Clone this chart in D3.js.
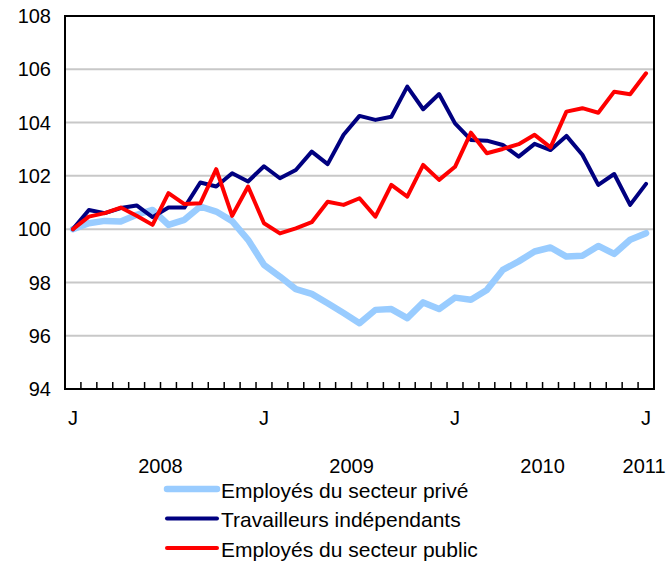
<!DOCTYPE html>
<html>
<head>
<meta charset="utf-8">
<script src="https://cdn.jsdelivr.net/npm/d3@7"></script>
<style>
body { margin: 0; background: #fff; }
svg text { font-family: Arial, "Liberation Sans", sans-serif; fill: #000; }
</style>
</head>
<body>
<svg class="canvas"></svg>
<script>
// monthly index, Jan 2008 = 100
var months = ["J","F","M","A","M","J","J","A","S","O","N","D",
              "J","F","M","A","M","J","J","A","S","O","N","D",
              "J","F","M","A","M","J","J","A","S","O","N","D","J"];
var years = [{label: "2008", from: 0, to: 11}, {label: "2009", from: 12, to: 23},
             {label: "2010", from: 24, to: 35}, {label: "2011", from: 36, to: 36}];
var yTicks = [94, 96, 98, 100, 102, 104, 106, 108];

var prive = [100, 100.22, 100.31, 100.29, 100.54, 100.72, 100.16, 100.35, 100.85, 100.66, 100.3, 99.6,
             98.66, 98.22, 97.75, 97.57, 97.22, 96.85, 96.47, 96.97, 97.0, 96.66, 97.25, 97.0,
             97.43, 97.35, 97.72, 98.47, 98.79, 99.16, 99.31, 98.97, 99.0, 99.37, 99.07, 99.6, 99.85];
var independants = [100, 100.72, 100.6, 100.79, 100.89, 100.45, 100.81, 100.81, 101.75, 101.6, 102.1, 101.79,
             102.36, 101.91, 102.22, 102.91, 102.44, 103.54, 104.25, 104.1, 104.22, 105.35, 104.5, 105.07,
             103.97, 103.35, 103.32, 103.16, 102.72, 103.2, 102.97, 103.5, 102.79, 101.66, 102.07, 100.91, 101.7];
var publics = [100, 100.47, 100.6, 100.81, 100.5, 100.16, 101.35, 100.94, 100.97, 102.25, 100.5, 101.6,
             100.22, 99.84, 100.03, 100.26, 101.03, 100.91, 101.16, 100.47, 101.66, 101.22, 102.41, 101.85,
             102.34, 103.62, 102.85, 103.01, 103.19, 103.54, 103.07, 104.41, 104.54, 104.37, 105.16, 105.06, 105.85];

var series = [
  {name: "Employés du secteur privé", values: prive, color: "#99ccff", width: 6.5},
  {name: "Travailleurs indépendants", values: independants, color: "#000080", width: 4},
  {name: "Employés du secteur public", values: publics, color: "#ff0000", width: 4}
];

var W = 669, H = 567;
var pl = 65, pr = 654, pt = 16, pb = 389;
var fs = "20px";

var canv = d3.select(".canvas").attr("width", W).attr("height", H);

var x = d3.scaleBand().domain(d3.range(months.length)).range([pl, pr]).padding(0);
var bw = x.bandwidth();
var px = function(i) { return x(i) + bw / 2; };
var y = d3.scaleLinear().domain([94, 108]).range([pb, pt]);

// gridlines
canv.selectAll("line.grid")
  .data(yTicks.filter(function(d) { return d > 94 && d < 108; }))
  .enter().append("line")
  .attr("class", "grid")
  .attr("x1", pl).attr("x2", pr)
  .attr("y1", function(d) { return y(d); })
  .attr("y2", function(d) { return y(d); })
  .style("stroke", "#c8c8c8").style("stroke-width", 2);

// y labels
canv.selectAll("text.ylab")
  .data(yTicks)
  .enter().append("text")
  .attr("class", "ylab")
  .attr("x", 51)
  .attr("y", function(d) { return y(d); })
  .attr("dy", "0.36em")
  .attr("text-anchor", "end")
  .attr("font-size", fs)
  .text(function(d) { return d; });

// series lines
var line = d3.line()
  .x(function(d, i) { return px(i); })
  .y(function(d) { return y(d); });

canv.selectAll("path.series")
  .data(series)
  .enter().append("path")
  .attr("class", "series")
  .attr("d", function(d) { return line(d.values); })
  .style("fill", "none")
  .style("stroke", function(d) { return d.color; })
  .style("stroke-width", function(d) { return d.width; })
  .style("stroke-linejoin", "round")
  .style("stroke-linecap", "round");

// frame
canv.append("rect")
  .attr("x", pl).attr("y", pt)
  .attr("width", pr - pl).attr("height", pb - pt)
  .style("fill", "none").style("stroke", "#000").style("stroke-width", 2);

// x ticks (inside, at month boundaries)
canv.selectAll("line.xtick")
  .data(d3.range(1, months.length))
  .enter().append("line")
  .attr("class", "xtick")
  .attr("x1", function(d) { return x(d); })
  .attr("x2", function(d) { return x(d); })
  .attr("y1", pb).attr("y2", pb - 7)
  .style("stroke", "#000").style("stroke-width", 1.5);

// month labels: only January
canv.selectAll("text.mlab")
  .data(d3.range(months.length).filter(function(i) { return i % 12 === 0; }))
  .enter().append("text")
  .attr("class", "mlab")
  .attr("x", function(i) { return px(i); })
  .attr("y", 425)
  .attr("text-anchor", "middle")
  .attr("font-size", fs)
  .text(function(i) { return months[i]; });

canv.selectAll("text.yr")
  .data(years)
  .enter().append("text")
  .attr("class", "yr")
  .attr("x", function(d) { return (px(d.from) + px(d.to)) / 2 - (d.from === d.to ? 2 : 0); })
  .attr("y", 473)
  .attr("text-anchor", "middle")
  .attr("font-size", fs)
  .text(function(d) { return d.label; });

// legend
var leg = canv.selectAll("g.leg")
  .data(series)
  .enter().append("g")
  .attr("class", "leg")
  .attr("transform", function(d, i) { return "translate(0," + (489 + i * 29.5) + ")"; });
leg.append("line")
  .attr("x1", 167).attr("x2", 217).attr("y1", 0).attr("y2", 0)
  .style("stroke", function(d) { return d.color; })
  .style("stroke-width", function(d) { return d.width; })
  .style("stroke-linecap", "round");
leg.append("text")
  .attr("x", 221).attr("y", 1).attr("dy", "0.36em")
  .attr("font-size", "21px")
  .text(function(d) { return d.name; });
</script>
</body>
</html>
